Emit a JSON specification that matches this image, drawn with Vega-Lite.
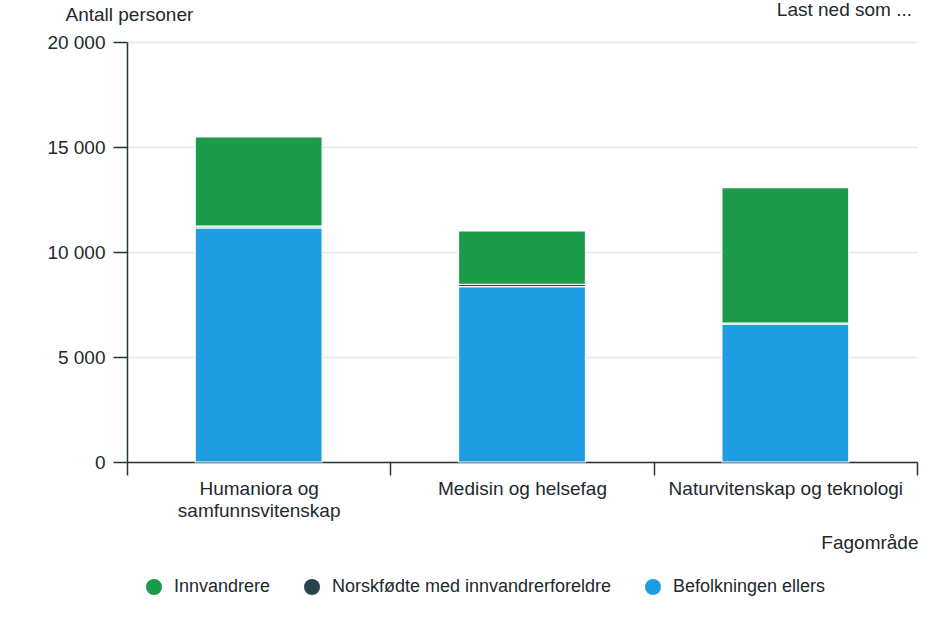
{
  "$schema": "https://vega.github.io/schema/vega-lite/v6.json",
  "description": "Antall personer etter fagområde og innvandringsbakgrunn",
  "autosize": {"type": "none"},
  "width": 790,
  "height": 420,
  "padding": {"left": 127, "top": 42, "right": 32, "bottom": 164},
  "title": {
    "text": "Last ned som ...",
    "anchor": "end",
    "frame": "group",
    "baseline": "alphabetic",
    "offset": 0,
    "dx": -5,
    "dy": 30,
    "fontSize": 19,
    "fontWeight": "normal",
    "color": "#21292d",
    "font": "Liberation Sans"
  },
  "data": {
    "values": [
      {"fag": "Humaniora og samfunnsvitenskap", "gruppe": "Befolkningen ellers", "rank": 1, "antall": 11150},
      {"fag": "Humaniora og samfunnsvitenskap", "gruppe": "Norskfødte med innvandrerforeldre", "rank": 2, "antall": 80},
      {"fag": "Humaniora og samfunnsvitenskap", "gruppe": "Innvandrere", "rank": 3, "antall": 4250},
      {"fag": "Medisin og helsefag", "gruppe": "Befolkningen ellers", "rank": 1, "antall": 8350},
      {"fag": "Medisin og helsefag", "gruppe": "Norskfødte med innvandrerforeldre", "rank": 2, "antall": 110},
      {"fag": "Medisin og helsefag", "gruppe": "Innvandrere", "rank": 3, "antall": 2540},
      {"fag": "Naturvitenskap og teknologi", "gruppe": "Befolkningen ellers", "rank": 1, "antall": 6560},
      {"fag": "Naturvitenskap og teknologi", "gruppe": "Norskfødte med innvandrerforeldre", "rank": 2, "antall": 60},
      {"fag": "Naturvitenskap og teknologi", "gruppe": "Innvandrere", "rank": 3, "antall": 6450}
    ]
  },
  "mark": {"type": "bar", "width": {"band": 0.482}, "stroke": "white", "strokeWidth": 1.2},
  "encoding": {
    "x": {
      "field": "fag",
      "type": "nominal",
      "sort": null,
      "scale": {"paddingInner": 0, "paddingOuter": 0},
      "axis": {
        "title": "Fagområde",
        "titleAnchor": "end",
        "titleAlign": "right",
        "titleX": 791,
        "titleY": 86,
        "titleBaseline": "alphabetic",
        "labelAngle": 0,
        "labelLimit": 0,
        "tickBand": "extent",
        "tickSize": 13,
        "labelPadding": 4,
        "labelLineHeight": 22,
        "labelExpr": "datum.label == 'Humaniora og samfunnsvitenskap' ? ['Humaniora og', 'samfunnsvitenskap'] : datum.label"
      }
    },
    "y": {
      "field": "antall",
      "type": "quantitative",
      "stack": "zero",
      "scale": {"domain": [0, 20000]},
      "axis": {
        "title": "Antall personer",
        "titleAngle": 0,
        "titleAlign": "left",
        "titleBaseline": "alphabetic",
        "titleX": -62,
        "titleY": -22,
        "values": [0, 5000, 10000, 15000, 20000],
        "tickSize": 14,
        "labelPadding": 8,
        "labelExpr": "replace(format(datum.value, ','), ',', ' ')",
        "grid": true
      }
    },
    "color": {
      "field": "gruppe",
      "type": "nominal",
      "scale": {
        "domain": ["Innvandrere", "Norskfødte med innvandrerforeldre", "Befolkningen ellers"],
        "range": ["#1c9b4a", "#26424a", "#1f9de2"]
      },
      "legend": {
        "title": null,
        "orient": "none",
        "direction": "horizontal",
        "legendX": 18,
        "legendY": 536,
        "symbolType": "circle",
        "symbolSize": 256,
        "symbolStrokeWidth": 0,
        "labelFontSize": 18,
        "labelLimit": 0,
        "labelOffset": 11,
        "columnPadding": 32
      }
    },
    "order": {"field": "rank", "sort": "ascending"}
  },
  "config": {
    "background": "#FFFFFF",
    "view": {"stroke": null},
    "font": "Liberation Sans",
    "axis": {
      "labelFont": "Liberation Sans",
      "titleFont": "Liberation Sans",
      "labelFontSize": 19,
      "titleFontSize": 19,
      "titleFontWeight": "normal",
      "labelColor": "#21292d",
      "titleColor": "#21292d",
      "domainColor": "#21363b",
      "domainWidth": 1.5,
      "tickColor": "#21363b",
      "tickWidth": 1.5,
      "gridColor": "#e6e6e6",
      "gridWidth": 1.5
    },
    "axisX": {"grid": false},
    "legend": {"labelFont": "Liberation Sans", "labelColor": "#21292d"}
  }
}
